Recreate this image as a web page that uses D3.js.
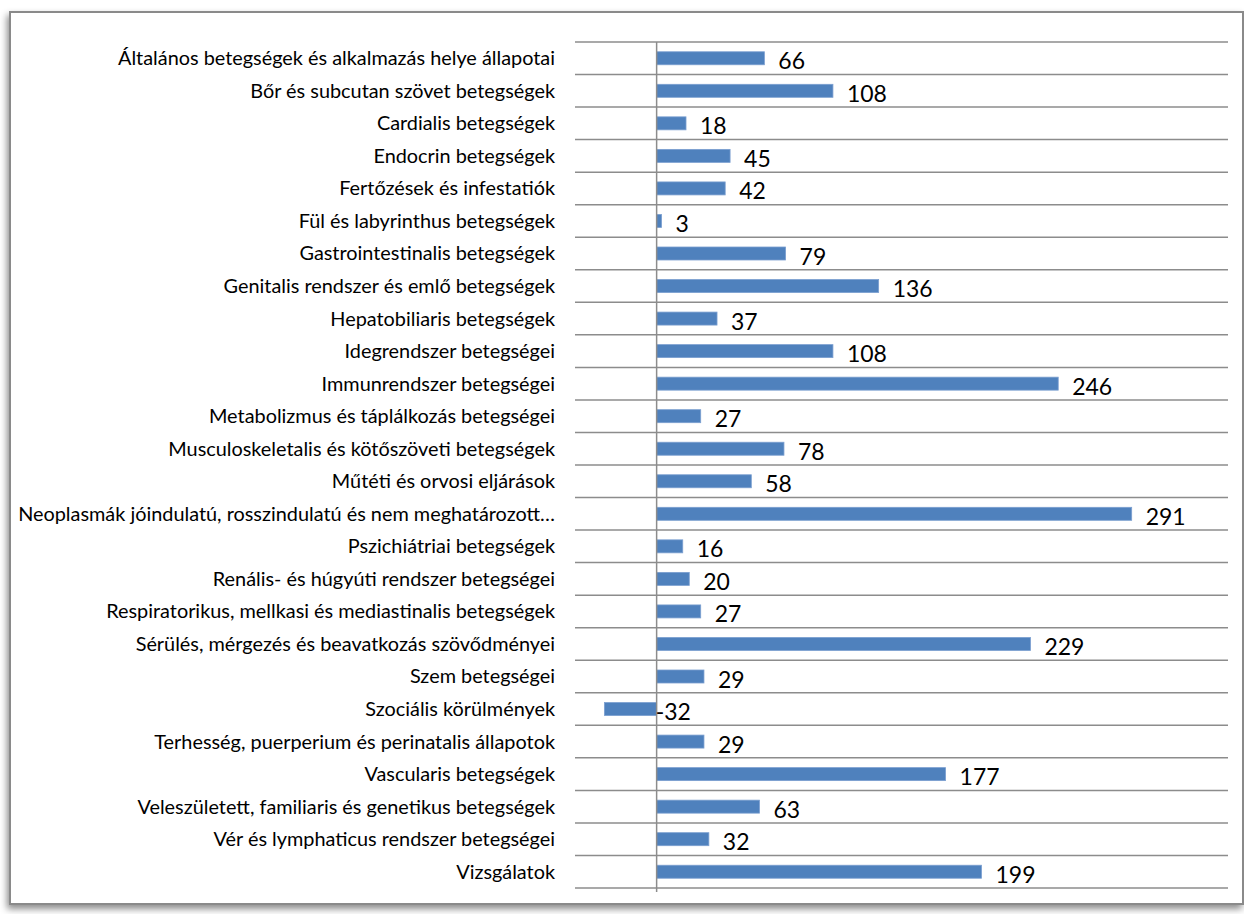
<!DOCTYPE html>
<html>
<head>
<meta charset="utf-8">
<script src="https://cdn.jsdelivr.net/npm/d3@7"></script>
<style>
  html, body { margin: 0; padding: 0; background: #fff; }
  svg { display: block; }
  .cat { font-family: Lato, "Open Sans", sans-serif; font-size: 18px; fill: #000; }
  .val { font-family: Lato, "Open Sans", sans-serif; font-size: 23px; fill: #000; }
</style>
</head>
<body>
<svg id="chart"></svg>
<script>
// kategóriák és értékek
const categories = [
  "Általános betegségek és alkalmazás helye állapotai",
  "Bőr és subcutan szövet betegségek",
  "Cardialis betegségek",
  "Endocrin betegségek",
  "Fertőzések és infestatiók",
  "Fül és labyrinthus betegségek",
  "Gastrointestinalis betegségek",
  "Genitalis rendszer és emlő betegségek",
  "Hepatobiliaris betegségek",
  "Idegrendszer betegségei",
  "Immunrendszer betegségei",
  "Metabolizmus és táplálkozás betegségei",
  "Musculoskeletalis és kötőszöveti betegségek",
  "Műtéti és orvosi eljárások",
  "Neoplasmák jóindulatú, rosszindulatú és nem meghatározott…",
  "Pszichiátriai betegségek",
  "Renális- és húgyúti rendszer betegségei",
  "Respiratorikus, mellkasi és mediastinalis betegségek",
  "Sérülés, mérgezés és beavatkozás szövődményei",
  "Szem betegségei",
  "Szociális körülmények",
  "Terhesség, puerperium és perinatalis állapotok",
  "Vascularis betegségek",
  "Veleszületett, familiaris és genetikus betegségek",
  "Vér és lymphaticus rendszer betegségei",
  "Vizsgálatok"
];
const values = [66, 108, 18, 45, 42, 3, 79, 136, 37, 108, 246, 27, 78, 58, 291, 16, 20, 27, 229, 29, -32, 29, 177, 63, 32, 199];
const valueDomain = [-50, 350];

const width = 1244, height = 914;
const plot = { left: 575, right: 1228, top: 42, bottom: 888 };
const barColor = "#4f81bd";
const gridColor = "#8c8c8c";

const svg = d3.select("#chart").attr("width", width).attr("height", height);

// keret + árnyék
const defs = svg.append("defs");
defs.append("filter").attr("id", "shadow")
  .attr("x", "-5%").attr("y", "-5%").attr("width", "110%").attr("height", "110%")
  .append("feDropShadow")
  .attr("dx", -2).attr("dy", 4).attr("stdDeviation", 3.5)
  .attr("flood-color", "#000").attr("flood-opacity", 0.45);

svg.append("rect")
  .attr("x", 10).attr("y", 12)
  .attr("width", 1233).attr("height", 892)
  .attr("fill", "#fff")
  .attr("stroke", "#8a8a8a")
  .attr("stroke-width", 2)
  .attr("filter", "url(#shadow)");

const x = d3.scaleLinear().domain(valueDomain).range([plot.left, plot.right]);
const y = d3.scaleBand().domain(categories).range([plot.top, plot.bottom]).paddingInner(0).paddingOuter(0);

// vízszintes rácsvonalak a kategóriák között
const gridY = categories.map(c => y(c)).concat([plot.bottom]);
svg.append("g").selectAll("line")
  .data(gridY)
  .join("line")
  .attr("x1", plot.left).attr("x2", plot.right)
  .attr("y1", d => d).attr("y2", d => d)
  .attr("stroke", gridColor)
  .attr("stroke-width", 1.5);

// oszlopok
const barH = 13;
svg.append("g").selectAll("rect")
  .data(values)
  .join("rect")
  .attr("x", d => x(Math.min(0, d)))
  .attr("width", d => Math.abs(x(d) - x(0)))
  .attr("y", (d, i) => y(categories[i]) + y.bandwidth() / 2 - barH / 2)
  .attr("height", barH)
  .attr("fill", barColor)
  .attr("stroke", "#7b9fd0")
  .attr("stroke-width", 0.8);

// nulla tengely
svg.append("line")
  .attr("x1", x(0)).attr("x2", x(0))
  .attr("y1", plot.top).attr("y2", plot.bottom + 4)
  .attr("stroke", gridColor)
  .attr("stroke-width", 1.5);

// kategória feliratok
const catText = svg.append("g").selectAll("text")
  .data(categories)
  .join("text")
  .attr("class", "cat")
  .attr("x", 555)
  .attr("y", d => y(d) + y.bandwidth() / 2)
  .attr("dy", "0.35em")
  .attr("text-anchor", "end")
  .text(d => d);

// betűméret igazítása: az első felirat kb. 437px széles
const w0 = catText.node().getComputedTextLength();
catText.style("font-size", (18 * 437 / w0).toFixed(2) + "px");

// értékfeliratok
const valText = svg.append("g").selectAll("text")
  .data(values)
  .join("text")
  .attr("class", "val")
  .attr("x", d => d < 0 ? x(0) - 1 : x(d) + 14)
  .attr("y", (d, i) => y(categories[i]) + y.bandwidth() / 2 + 3)
  .attr("dy", "0.35em")
  .text(d => d);

// "291" kb. 40px
const w1 = valText.filter(d => d === 291).node().getComputedTextLength();
valText.style("font-size", (23 * 40 / w1).toFixed(2) + "px");
</script>
</body>
</html>
